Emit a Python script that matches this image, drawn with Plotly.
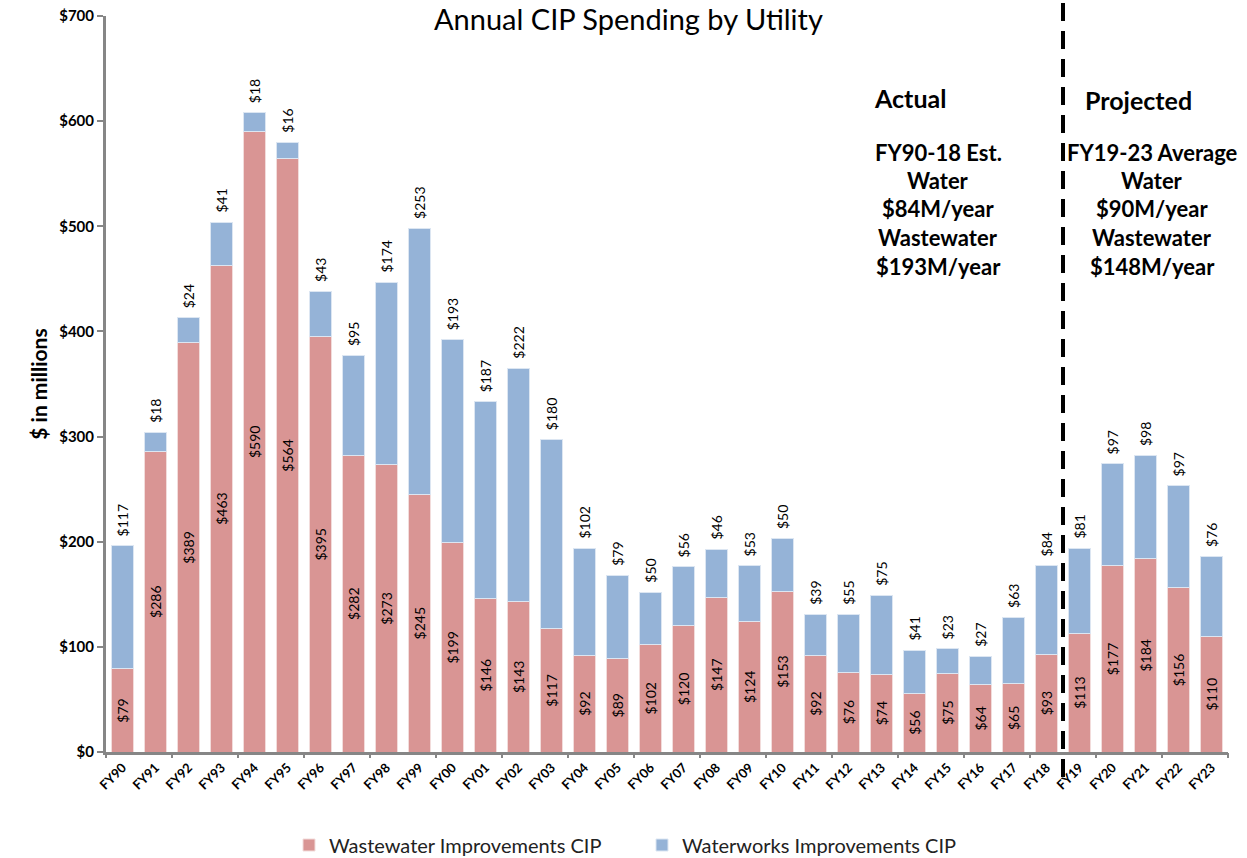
import plotly.graph_objects as go

years = ["FY90","FY91","FY92","FY93","FY94","FY95","FY96","FY97","FY98","FY99",
         "FY00","FY01","FY02","FY03","FY04","FY05","FY06","FY07","FY08","FY09",
         "FY10","FY11","FY12","FY13","FY14","FY15","FY16","FY17","FY18","FY19",
         "FY20","FY21","FY22","FY23"]
wastewater = [79,286,389,463,590,564,395,282,273,245,
              199,146,143,117,92,89,102,120,147,124,
              153,92,76,74,56,75,64,65,93,113,
              177,184,156,110]
waterworks = [117,18,24,41,18,16,43,95,174,253,
              193,187,222,180,102,79,50,56,46,53,
              50,39,55,75,41,23,27,63,84,81,
              97,98,97,76]

actual_lines = ["FY90-18 Est.", "Water", "$84M/year", "Wastewater", "$193M/year"]
proj_lines = ["FY19-23 Average", "Water", "$90M/year", "Wastewater", "$148M/year"]

FONT = "Lato, 'Open Sans', sans-serif"
RED = "#D99594"
BLUE = "#95B3D7"
GREY = "#868686"

W, H = 1247, 858
L, T, R, B = 106, 16, 1228, 752
PW, PH = R - L, B - T
n = len(years)


def px(xs):
    return (xs - L) / PW


def py(ys):
    return (B - ys) / PH


fig = go.Figure()
fig.add_trace(go.Bar(
    x=years, y=wastewater, name="Wastewater Improvements CIP",
    marker=dict(color=RED, line=dict(color="#F2DCDB", width=1)),
    text=[f"${v}" for v in wastewater], textposition="inside",
    insidetextanchor="middle", textangle=-90, constraintext="none",
    textfont=dict(family=FONT, size=14, color="black"),
))
fig.add_trace(go.Bar(
    x=years, y=waterworks, name="Waterworks Improvements CIP",
    marker=dict(color=BLUE, line=dict(color="#DCE6F2", width=1)),
))
# empty helper trace so the tick-only overlay axis is rendered
fig.add_trace(go.Scatter(x=[], y=[], xaxis="x2", yaxis="y", showlegend=False,
                         hoverinfo="skip"))

# water labels above each stacked bar
for yr, ww, wt in zip(years, wastewater, waterworks):
    fig.add_annotation(x=yr, y=ww + wt, text=f"${wt}", xref="x", yref="y",
                       textangle=-90, xanchor="center", yanchor="bottom",
                       yshift=7, showarrow=False,
                       font=dict(family=FONT, size=14, color="black"))

fig.update_layout(
    barmode="stack", bargap=0.31,
    width=W, height=H,
    margin=dict(l=L, r=W - R, t=T, b=H - B, autoexpand=False),
    plot_bgcolor="white", paper_bgcolor="white",
    font=dict(family=FONT, color="black"),
    showlegend=True,
    legend=dict(orientation="h", xref="container", yref="container",
                x=289 / W, xanchor="left", y=1 - 845 / H, yanchor="middle",
                font=dict(family=FONT, size=20, color="#222"), entrywidth=308,
                itemwidth=30, traceorder="normal"),
    # tick marks every other category boundary (labels stay on the main axis)
    xaxis2=dict(overlaying="x", anchor="y", side="bottom", range=[-0.5, n - 0.5],
                tickmode="array", tickvals=[i - 0.5 for i in range(0, n + 1, 2)],
                showticklabels=False, ticks="outside", ticklen=5, tickwidth=2,
                tickcolor=GREY, showgrid=False, zeroline=False, showline=False),
)
fig.update_yaxes(range=[0, 700], dtick=100, tickprefix="$", showgrid=False,
                 showline=True, linecolor=GREY, linewidth=3, ticks="outside",
                 tickcolor=GREY, tickwidth=2, ticklen=6, ticklabeloverflow="allow",
                 tickfont=dict(family=FONT, size=15, color="black", weight="bold"),
                 title=dict(text="<b>$ in millions</b>", font=dict(family=FONT, size=21), standoff=6),
                 zeroline=False)
fig.update_layout(xaxis=dict(showline=True, linecolor=GREY, linewidth=3, ticks="",
                             range=[-0.5, n - 0.5], ticklen=5,
                             tickangle=-45,
                             tickfont=dict(family=FONT, size=13, color="black", weight="bold")))

# divider between actual and projected
fig.add_shape(type="line", xref="x", yref="paper", x0=28.5, x1=28.5,
              y0=py(777), y1=py(0),
              line=dict(color="black", width=4, dash="18px,10px"))

anns = [dict(text="Annual CIP Spending by Utility", x=px(628), y=py(19), size=29, bold=False)]
anns.append(dict(text="Actual", x=px(910), y=py(98), size=25, bold=True))
anns.append(dict(text="Projected", x=px(1138), y=py(100), size=25, bold=True))
ys = [152, 180, 208, 237, 266]
for t, yy in zip(actual_lines, ys):
    anns.append(dict(text=t, x=px(938), y=py(yy), size=22, bold=True))
for t, yy in zip(proj_lines, ys):
    anns.append(dict(text=t, x=px(1152), y=py(yy), size=22, bold=True))
for a in anns:
    fig.add_annotation(text=f"<b>{a['text']}</b>" if a["bold"] else a["text"],
                       xref="paper", yref="paper", x=a["x"], y=a["y"],
                       xanchor="center", yanchor="middle", showarrow=False,
                       font=dict(family=FONT, size=a["size"], color="black"))

fig.write_html("out.html", config={"displayModeBar": False},
               post_script="document.body.style.margin='0';")
